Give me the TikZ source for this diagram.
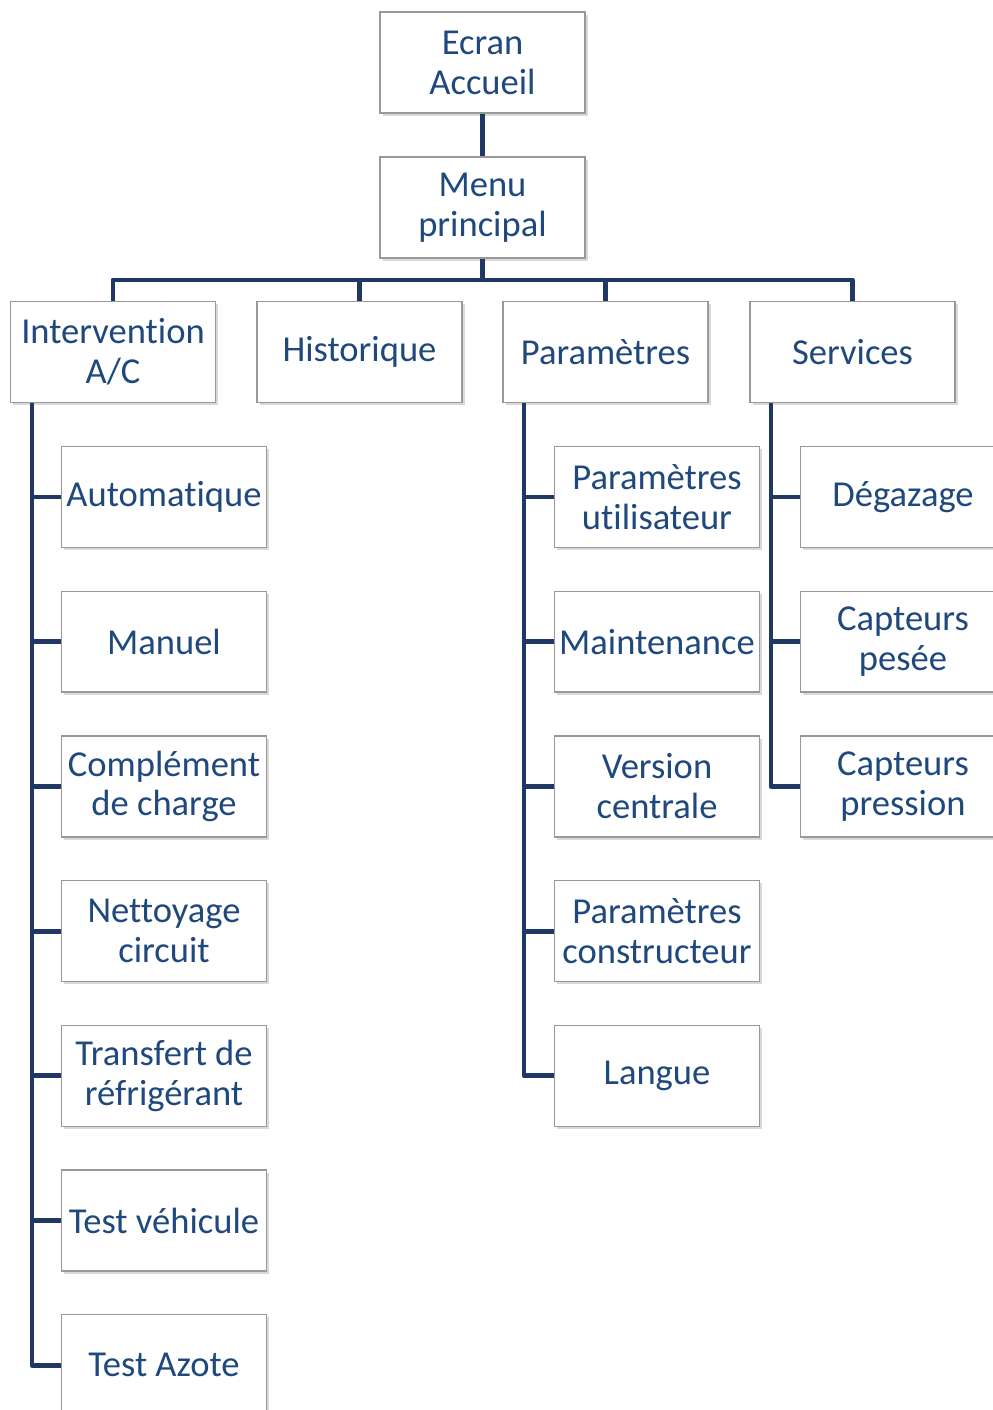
\documentclass[tikz,border=0pt]{standalone}
\usepackage{fontspec}
\setmainfont{Carlito}[Ligatures=NoCommon]
\usetikzlibrary{shadows}
\definecolor{boxtext}{RGB}{31,73,125}
\definecolor{treeline}{RGB}{31,56,100}

\tikzset{
  menubox/.style={draw=black!40, line width=0.8pt, fill=white,
    minimum width=4.1cm, minimum height=2.02cm, inner sep=0pt,
    align=center, text=boxtext, font=\fontsize{20.8}{22.7}\selectfont,
    drop shadow={shadow xshift=1.5pt, shadow yshift=-1.5pt, opacity=0.3}},
  link/.style={draw=treeline, line width=2.8pt, line join=round}
}

\begin{document}
\begin{tikzpicture}[x=0.02cm, y=-0.02cm]
\useasboundingbox (0,0) rectangle (993,1410);

\coordinate (bar) at (482.5,280);
\coordinate (ispine) at (32,403);
\coordinate (pspine) at (524,403);
\coordinate (sspine) at (771,403);

\node[menubox] (ecran) at (482.5,62.5) {Ecran\\Accueil};
\node[menubox] (menu) at (482.5,207.5) {Menu\\principal};

\node[menubox] (interv) at (113,352) {Intervention\\A/C};
\node[menubox] (histo) at (359.5,352) {Historique};
\node[menubox] (param) at (605.5,352) {Paramètres};
\node[menubox] (serv) at (852.5,352) {Services};

% sous-menus
\foreach \txt [count=\i] in {Automatique, Manuel, {Complément\\de charge},
    {Nettoyage\\circuit}, {Transfert de\\réfrigérant}, Test véhicule, Test Azote}
  \node[menubox] (i\i) at (164,{497+144.7*(\i-1)}) {\txt};
\foreach \txt [count=\i] in {{Paramètres\\utilisateur}, Maintenance,
    {Version\\centrale}, {Paramètres\\constructeur}, Langue}
  \node[menubox] (p\i) at (657,{497+144.7*(\i-1)}) {\txt};
\foreach \txt [count=\i] in {Dégazage, {Capteurs\\pesée}, {Capteurs\\pression}}
  \node[menubox] (s\i) at (903,{497+144.7*(\i-1)}) {\txt};

\draw[link] (ecran) -- (menu);
\draw[link] (menu) -- (bar);
\draw[link] (interv.north) |- (bar) -| (serv.north);
\draw[link] (histo.north) -- (histo.north |- bar);
\draw[link] (param.north) -- (param.north |- bar);

\draw[link] (ispine) |- (i7.west);
\foreach \i in {1,...,6}
  \draw[link] (ispine |- i\i) -- (i\i.west);
\draw[link] (pspine) |- (p5.west);
\foreach \i in {1,...,4}
  \draw[link] (pspine |- p\i) -- (p\i.west);
\draw[link] (sspine) |- (s3.west);
\foreach \i in {1,2}
  \draw[link] (sspine |- s\i) -- (s\i.west);

\end{tikzpicture}
\end{document}
